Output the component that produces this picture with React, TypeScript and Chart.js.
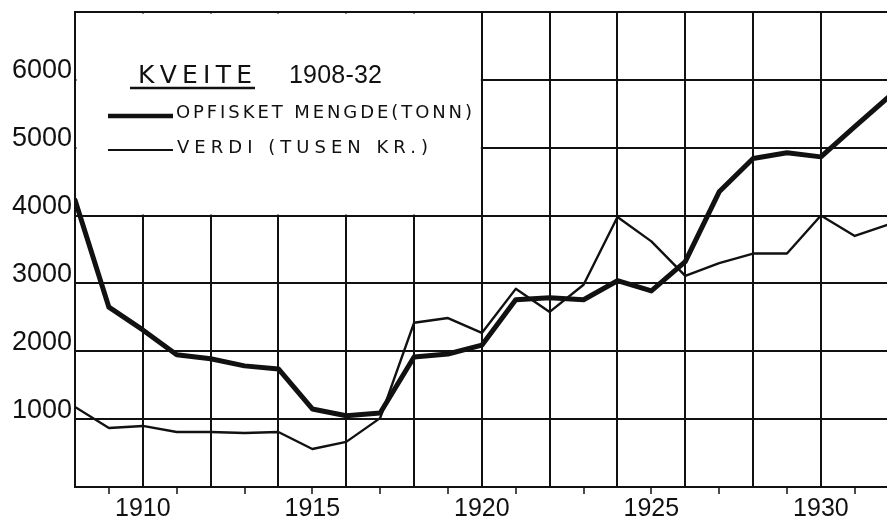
import React, { useEffect, useRef } from "react";
import { Chart, registerables } from "chart.js";

Chart.register(...registerables);

const years = [1908, 1909, 1910, 1911, 1912, 1913, 1914, 1915, 1916, 1917, 1918, 1919, 1920, 1921, 1922, 1923, 1924, 1925, 1926, 1927, 1928, 1929, 1930, 1931, 1932];
const catchTonnes = [4230, 2650, 2315, 1950, 1890, 1785, 1740, 1150, 1050, 1090, 1915, 1960, 2090, 2760, 2790, 2760, 3040, 2890, 3320, 4350, 4840, 4925, 4865, 5310, 5750];
const valueThousandKr = [1180, 870, 900, 810, 810, 795, 810, 560, 665, 1015, 2420, 2490, 2270, 2920, 2580, 2980, 3980, 3620, 3110, 3300, 3440, 3440, 4000, 3700, 3870];
const xLabelYears = [1910, 1915, 1920, 1925, 1930];
const yLabelValues = [1000, 2000, 3000, 4000, 5000, 6000];

const titleText = "KVEITE";
const periodText = "1908-32";
const seriesNames = ["OPFISKET MENGDE(TONN)", "VERDI (TUSEN KR.)"];

const INK = "#111";
const FONT = "'Liberation Sans', Arial, sans-serif";
const LEGEND_FONT = "'DejaVu Sans', sans-serif";

function fitText(ctx: CanvasRenderingContext2D, text: string, x: number, y: number, targetW: number, font: string) {
  ctx.font = font;
  (ctx as any).letterSpacing = "0px";
  const w = ctx.measureText(text).width;
  const n = text.length;
  const ls = n > 1 ? (targetW - w) / (n - 1) : 0;
  (ctx as any).letterSpacing = ls + "px";
  ctx.fillText(text, x, y);
  (ctx as any).letterSpacing = "0px";
}

const legendBoxPlugin = {
  id: "legendBox",
  beforeDatasetsDraw(chart: any) {
    const { ctx, chartArea, scales } = chart;
    const x1920 = scales.x.getPixelForValue(1920);
    const y4000 = scales.y.getPixelForValue(4000);
    ctx.save();
    ctx.fillStyle = "#fff";
    ctx.fillRect(chartArea.left + 1.5, chartArea.top + 1.5, x1920 - chartArea.left - 2.5, y4000 - chartArea.top - 2.5);
    ctx.restore();
  },
  afterDatasetsDraw(chart: any) {
    const { ctx, chartArea } = chart;
    const L = chartArea.left;
    const T = chartArea.top;
    ctx.save();
    ctx.fillStyle = INK;
    ctx.strokeStyle = INK;
    ctx.textBaseline = "alphabetic";
    ctx.textAlign = "left";
    fitText(ctx, titleText, L + 63, T + 71, 114, `25px ${LEGEND_FONT}`);
    ctx.lineWidth = 2.5;
    ctx.beginPath();
    ctx.moveTo(L + 55, T + 76);
    ctx.lineTo(L + 180, T + 76);
    ctx.stroke();
    fitText(ctx, periodText, L + 214, T + 71, 93, `25px ${FONT}`);

    ctx.lineWidth = 4.5;
    ctx.beginPath();
    ctx.moveTo(L + 33, T + 104);
    ctx.lineTo(L + 98, T + 104);
    ctx.stroke();
    fitText(ctx, seriesNames[0], L + 101, T + 106, 296, `18px ${LEGEND_FONT}`);

    ctx.lineWidth = 2;
    ctx.beginPath();
    ctx.moveTo(L + 33, T + 138);
    ctx.lineTo(L + 98, T + 138);
    ctx.stroke();
    fitText(ctx, seriesNames[1], L + 102, T + 141, 251, `18px ${LEGEND_FONT}`);
    ctx.restore();
  },
};

export default function App() {
  const ref = useRef<HTMLCanvasElement | null>(null);
  useEffect(() => {
    if (!ref.current) return;
    const chart = new Chart(ref.current, {
      type: "line",
      data: {
        datasets: [
          {
            label: seriesNames[0],
            data: years.map((yr, i) => ({ x: yr, y: catchTonnes[i] })),
            borderColor: INK,
            borderWidth: 5,
            pointRadius: 0,
            tension: 0,
            borderJoinStyle: "round",
            borderCapStyle: "round",
          },
          {
            label: seriesNames[1],
            data: years.map((yr, i) => ({ x: yr, y: valueThousandKr[i] })),
            borderColor: INK,
            borderWidth: 2.4,
            pointRadius: 0,
            tension: 0,
            borderJoinStyle: "round",
          },
        ],
      },
      options: {
        responsive: false,
        animation: false,
        layout: { padding: { top: 12, left: 0, right: 0, bottom: 0 } },
        plugins: { legend: { display: false }, tooltip: { enabled: false } },
        scales: {
          x: {
            type: "linear",
            min: 1908,
            max: 1931.95,
            afterFit(scale: any) {
              scale.height = 35;
              scale.paddingLeft = 0;
              scale.paddingRight = 0;
            },
            border: { display: true, color: INK, width: 2 },
            grid: {
              color: (c: any) => (c.tick && Math.round(c.tick.value) % 2 === 0 ? INK : "rgba(0,0,0,0)"),
              tickColor: (c: any) => (c.tick && Math.round(c.tick.value) % 2 === 1 ? INK : "rgba(0,0,0,0)"),
              lineWidth: 2,
              tickWidth: 1.5,
              tickLength: 7,
              drawTicks: true,
            },
            ticks: {
              stepSize: 1,
              autoSkip: false,
              includeBounds: false,
              maxRotation: 0,
              padding: 0,
              color: INK,
              font: { family: FONT, size: 25 },
              callback: (v: any) => (xLabelYears.includes(Number(v)) ? String(v) : ""),
            },
          },
          y: {
            min: 0,
            max: 7000,
            afterFit(scale: any) {
              scale.width = 75;
              scale.paddingTop = 0;
              scale.paddingBottom = 0;
            },
            border: { display: true, color: INK, width: 2 },
            grid: { color: INK, lineWidth: 2, drawTicks: false },
            ticks: {
              stepSize: 1000,
              padding: 3,
              labelOffset: -9,
              color: INK,
              font: { family: FONT, size: 27 },
              callback: (v: any) => (yLabelValues.includes(Number(v)) ? String(v) : ""),
            },
          },
        },
      },
      plugins: [legendBoxPlugin],
    } as any);
    return () => chart.destroy();
  }, []);
  return (
    <div style={{ position: "fixed", left: 0, top: 0, width: 887, height: 522, background: "#fff" }}>
      <canvas ref={ref} width={887} height={522} />
    </div>
  );
}
